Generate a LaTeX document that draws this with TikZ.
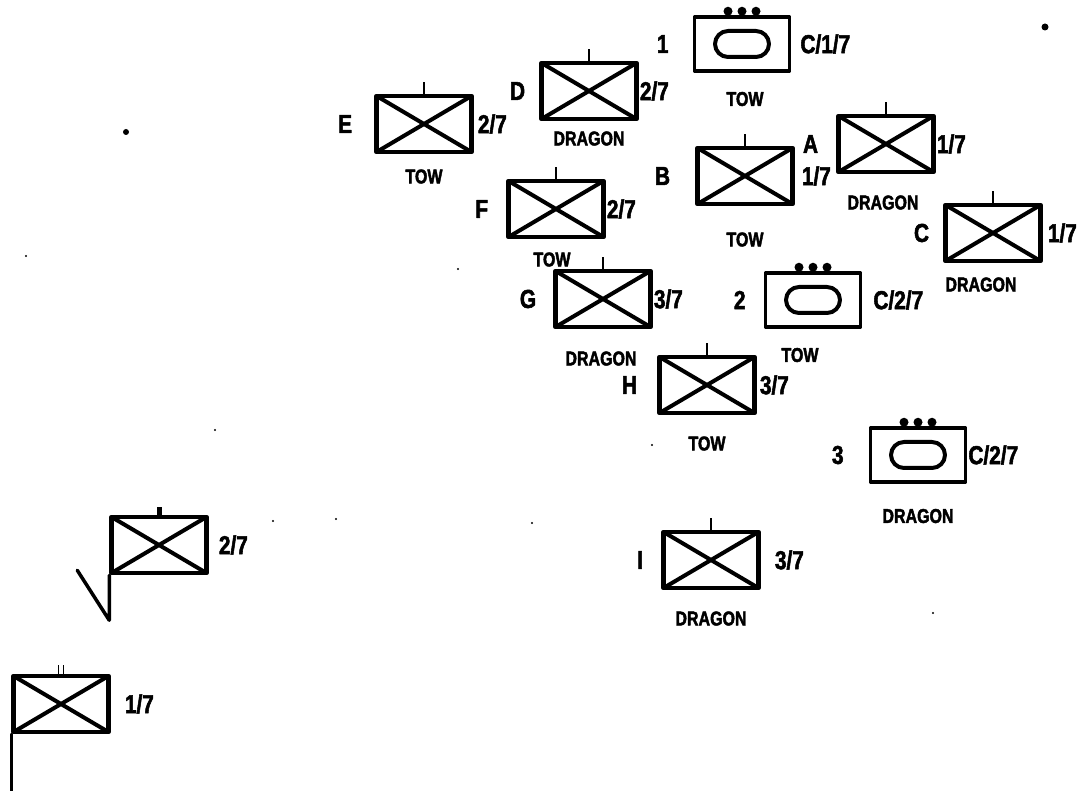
\documentclass[tikz,border=0pt]{standalone}
\usepackage{fontspec}
\newfontfamily\milfont[FakeStretch=0.8,BoldFeatures={FakeBold=2}]{Liberation Sans}
\usetikzlibrary{positioning,shapes.misc}

\tikzset{
  inf/.style={draw,line width=4.5pt,minimum width=95pt,minimum height=56pt,inner sep=0pt,
    path picture={\draw[line width=4pt]
      (path picture bounding box.north west)--(path picture bounding box.south east)
      (path picture bounding box.south west)--(path picture bounding box.north east);}},
  armor/.style={draw,line width=3.5pt,minimum width=95pt,minimum height=54pt,inner sep=0pt},
  oval/.style={draw,rounded rectangle,line width=4pt,minimum width=54pt,minimum height=26pt,inner sep=0pt},
  lbl/.style={inner sep=0pt,font=\milfont\bfseries\fontsize{26}{26}\selectfont},
  wpn/.style={inner sep=0pt,font=\milfont\bfseries\fontsize{20}{20}\selectfont},
  tick/.style={line width=2.5pt},
  staff/.style={line width=3.5pt,line cap=round},
}

\begin{document}
\begin{tikzpicture}[x=1pt,y=-1pt,line join=round]
  \useasboundingbox (0,0) rectangle (1080,791);
  % infantry boxes
  \node[inf] (E) at (424,124) {};
  \node[inf] (D) at (589,91) {};
  \node[inf] (A) at (886,144) {};
  \node[inf] (B) at (745,176) {};
  \node[inf] (F) at (556,209) {};
  \node[inf] (C) at (993,233) {};
  \node[inf] (G) at (603,299) {};
  \node[inf] (H) at (707,385) {};
  \node[inf] (I) at (711,560) {};
  \node[inf] (flagtwo) at (159,545) {};
  \node[inf] (flagone) at (61,704) {};
  \foreach \u in {E,D,A,B,F,C,G,H,I}
    \draw[tick] (\u.north) -- ++(0,-12);
  \draw[line width=5pt] (flagtwo.north) -- ++(0,-8);
  \draw[line width=1.8pt] ([xshift=-2.5pt]flagone.north) -- ++(0,-9)
    ([xshift=2.5pt]flagone.north) -- ++(0,-9);
  % armored boxes
  \node[armor] (one) at (742,44) {};
  \node[armor] (two) at (813,300) {};
  \node[armor] (three) at (918,455) {};
  \foreach \a in {one,two,three}{
    \node[oval] (\a-oval) at (\a) {};
    \foreach \dx in {-14,0,14}
      \fill ([xshift=\dx pt,yshift=4pt]\a.north) circle (4.5pt);
  }
  % labels
  \node[lbl,left=22pt of E] (E-l) {E};
  \node[lbl,right=4pt of E] (E-e) {2/7};
  \node[wpn,below=15pt of E] (E-w) {TOW};
  \node[lbl,left=14pt of D] (D-l) {D};
  \node[lbl,right=1pt of D] (D-e) {2/7};
  \node[wpn,below=10pt of D] (D-w) {DRAGON};
  \node[lbl,left=24pt of one] (one-l) {1};
  \node[lbl,right=9pt of one] (one-e) {C/1/7};
  \node[wpn,below=19pt of one,xshift=3pt] (one-w) {TOW};
  \node[lbl,left=18pt of A] (A-l) {A};
  \node[lbl,right=1pt of A] (A-e) {1/7};
  \node[wpn,below=21pt of A,xshift=-3pt] (A-w) {DRAGON};
  \node[lbl,left=25pt of B] (B-l) {B};
  \node[lbl,right=7pt of B] (B-e) {1/7};
  \node[wpn,below=26pt of B] (B-w) {TOW};
  \node[lbl,left=18pt of F] (F-l) {F};
  \node[lbl,right=1pt of F] (F-e) {2/7};
  \node[wpn,below=13pt of F,xshift=-4pt] (F-w) {TOW};
  \node[lbl,left=14pt of C] (C-l) {C};
  \node[lbl,right=5pt of C] (C-e) {1/7};
  \node[wpn,below=14pt of C,xshift=-12pt] (C-w) {DRAGON};
  \node[lbl,left=17pt of G] (G-l) {G};
  \node[lbl,right=1pt of G] (G-e) {3/7};
  \node[wpn,below=22pt of G,xshift=-2pt] (G-w) {DRAGON};
  \node[lbl,left=18pt of two] (two-l) {2};
  \node[lbl,right=11pt of two] (two-e) {C/2/7};
  \node[wpn,below=19pt of two,xshift=-13pt] (two-w) {TOW};
  \node[lbl,left=20pt of H] (H-l) {H};
  \node[lbl,right=3pt of H] (H-e) {3/7};
  \node[wpn,below=21pt of H] (H-w) {TOW};
  \node[lbl,left=25pt of three] (three-l) {3};
  \node[lbl,right=1pt of three] (three-e) {C/2/7};
  \node[wpn,below=25pt of three] (three-w) {DRAGON};
  \node[lbl,left=18pt of I] (I-l) {I};
  \node[lbl,right=14pt of I] (I-e) {3/7};
  \node[wpn,below=21pt of I] (I-w) {DRAGON};
  \node[lbl,right=10pt of flagtwo] (flagtwo-e) {2/7};
  \node[lbl,right=14pt of flagone] (flagone-e) {1/7};
  % flag staffs
  \draw[staff] (flagtwo.south west) -- ++(0,45) coordinate (vtip) -- ++(-32,-50);
  \draw[staff] (flagone.south west) -- ++(0,62);
  % specks
  \fill (126,132) circle (3pt);
  \fill (1045,27) circle (3.5pt);
  \foreach \p in {(26,256),(458,269),(215,430),(273,521),(336,519),(532,523),(652,445),(933,613)}
    \fill \p circle (1.2pt);
\end{tikzpicture}
\end{document}
